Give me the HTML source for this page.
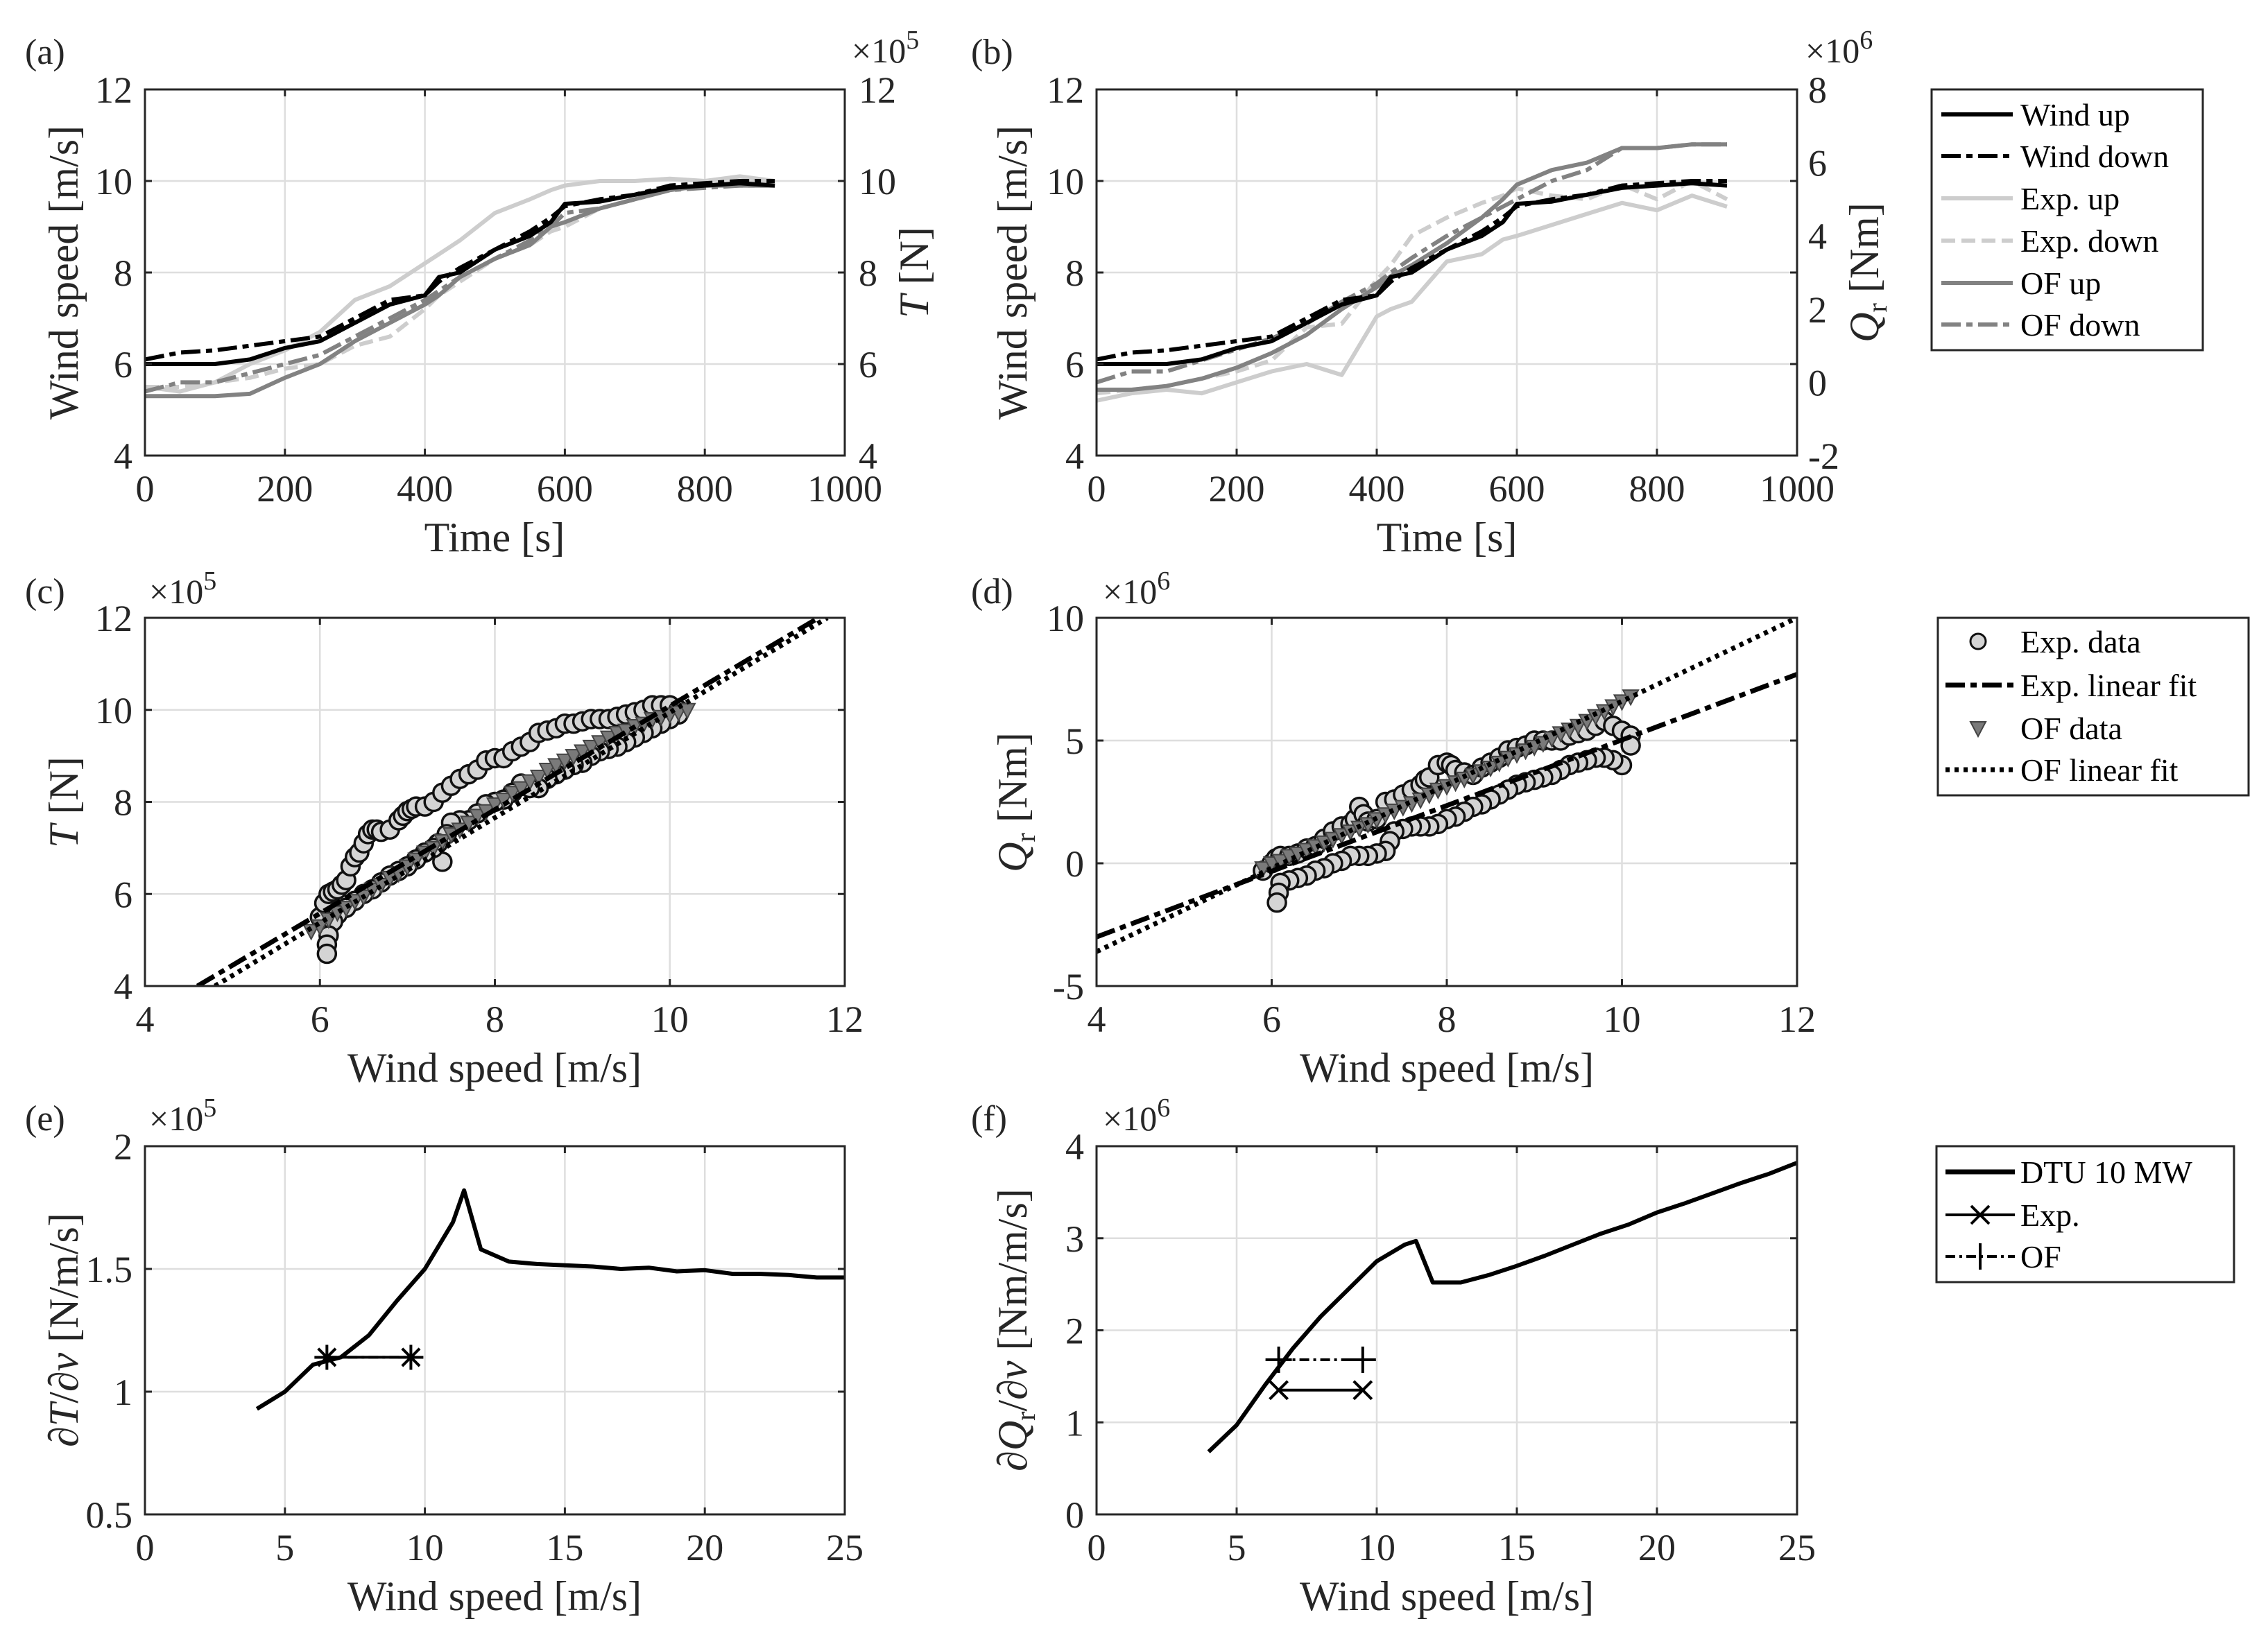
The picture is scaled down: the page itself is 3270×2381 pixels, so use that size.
<!DOCTYPE html>
<html><head><meta charset="utf-8">
<style>
html,body{margin:0;padding:0;background:#fff;}
svg{display:block;font-family:"Liberation Serif",serif;}
</style></head>
<body>
<svg id="fig" width="3270" height="2381" viewBox="0 0 3270 2381" xmlns="http://www.w3.org/2000/svg"></svg>
<script>
// ---------- Panel (a)/(b) time series data ----------
const timeA = [0,50,100,150,200,250,300,350,400,420,450,500,550,580,600,650,700,750,800,850,900];
const windUp = [6.0,6.0,6.0,6.1,6.35,6.5,6.9,7.3,7.5,7.9,8.0,8.5,8.8,9.1,9.5,9.55,9.7,9.85,9.9,9.95,9.9];
const windDown = [6.1,6.25,6.3,6.4,6.5,6.6,7.0,7.4,7.5,7.8,8.1,8.5,8.9,9.2,9.45,9.6,9.7,9.9,9.95,10.0,10.0];
const expUpT = [5.5,5.4,5.6,6.0,6.3,6.7,7.4,7.7,8.2,8.4,8.7,9.3,9.6,9.8,9.9,10.0,10.0,10.05,10.0,10.1,10.0];
const expDownT = [5.5,5.5,5.6,5.7,5.9,6.0,6.4,6.6,7.2,7.5,7.8,8.3,8.6,8.9,9.0,9.4,9.6,9.8,9.9,9.95,10.0];
const ofUpT = [5.3,5.3,5.3,5.35,5.7,6.0,6.5,6.9,7.3,7.5,7.9,8.3,8.6,9.0,9.1,9.4,9.6,9.8,9.9,9.9,9.9];
const ofDownT = [5.4,5.6,5.6,5.8,6.0,6.2,6.6,7.0,7.4,7.6,7.9,8.3,8.7,9.0,9.3,9.4,9.6,9.8,9.85,9.9,9.9];
const expUpQ = [-0.5,-0.3,-0.2,-0.3,0.0,0.3,0.5,0.2,1.8,2.0,2.2,3.3,3.5,3.9,4.0,4.3,4.6,4.9,4.7,5.1,4.8];
const expDownQ = [-0.3,-0.2,-0.1,0.1,0.3,0.6,1.5,1.6,2.8,3.2,4.0,4.5,4.9,5.1,5.3,5.1,5.0,5.4,5.0,5.5,5.0];
const ofUpQ = [-0.2,-0.2,-0.1,0.1,0.4,0.8,1.3,2.0,2.6,2.9,3.2,3.8,4.5,5.0,5.4,5.8,6.0,6.4,6.4,6.5,6.5];
const ofDownQ = [0.0,0.3,0.3,0.6,0.9,1.2,1.6,2.2,2.7,3.0,3.4,4.0,4.5,4.8,5.0,5.5,5.8,6.4,6.4,6.5,6.5];
const timeTicks = [0,200,400,600,800,1000];
const windTicks = [4,6,8,10,12];
const qTicks = [-2,0,2,4,6,8];

// ---------- Panel (c) ----------
const cExpX = [6.0,6.05,6.1,6.15,6.2,6.25,6.3,6.35,6.4,6.45,6.5,6.55,6.6,6.65,6.7,6.8,6.9,6.95,7.0,7.05,7.1,7.2,7.3,7.4,7.5,7.6,7.7,7.8,7.9,8.0,8.1,8.2,8.3,8.4,8.5,8.6,8.7,8.8,8.9,9.0,9.1,9.2,9.3,9.4,9.5,9.6,9.7,9.8,9.9,10.0,10.1,
  10.1,10.0,9.9,9.8,9.7,9.6,9.5,9.4,9.3,9.2,9.1,9.0,8.9,8.8,8.7,8.6,8.5,8.4,8.3,8.2,8.1,8.0,7.9,7.8,7.7,7.6,7.5,7.45,7.4,7.35,7.3,7.2,7.1,7.0,6.9,6.8,6.7,6.6,6.5,6.4,6.3,6.2,6.15,6.1,6.08,6.08];
const cExpY = [5.5,5.8,6.0,6.05,6.1,6.2,6.3,6.6,6.8,6.9,7.1,7.3,7.4,7.4,7.35,7.4,7.6,7.7,7.8,7.85,7.9,7.9,8.0,8.2,8.35,8.5,8.6,8.7,8.9,8.95,8.95,9.1,9.2,9.3,9.5,9.55,9.6,9.7,9.7,9.75,9.8,9.8,9.8,9.85,9.9,9.95,10.0,10.1,10.1,10.1,10.0,
  9.9,9.8,9.7,9.6,9.5,9.4,9.3,9.2,9.15,9.1,9.0,8.85,8.8,8.7,8.6,8.5,8.3,8.3,8.4,8.2,8.05,8.0,7.95,7.75,7.6,7.6,7.55,7.3,6.7,7.1,7.0,6.9,6.75,6.6,6.5,6.4,6.25,6.1,6.0,5.85,5.7,5.55,5.4,5.1,4.9,4.7];
const cOfX = [5.9,6.0,6.1,6.2,6.3,6.4,6.5,6.6,6.7,6.8,6.9,7.0,7.1,7.2,7.3,7.4,7.5,7.6,7.7,7.8,7.9,8.0,8.1,8.2,8.3,8.4,8.5,8.6,8.7,8.8,8.9,9.0,9.1,9.2,9.3,9.4,9.5,9.6,9.7,9.8,9.9,10.0,10.1,10.2];
const cOfY = [5.2,5.3,5.45,5.6,5.7,5.85,5.95,6.1,6.2,6.35,6.45,6.6,6.75,6.9,7.0,7.15,7.3,7.4,7.55,7.7,7.8,7.95,8.05,8.2,8.3,8.45,8.55,8.7,8.8,8.9,9.0,9.1,9.2,9.3,9.4,9.5,9.55,9.65,9.7,9.8,9.85,9.9,9.95,10.0];
const cFitExpX = [4.6,11.7]; const cFitExpY = [4,12];
const cFitOfX = [4.8,11.8]; const cFitOfY = [4,12];
const cXTicks = [4,6,8,10,12]; const cYTicks = [4,6,8,10,12];

// ---------- Panel (d) ----------
const dExpX = [5.9,6.0,6.05,6.1,6.2,6.3,6.4,6.5,6.6,6.7,6.8,6.9,6.95,7.0,7.05,7.1,7.2,7.3,7.4,7.5,7.6,7.7,7.75,7.8,7.9,8.0,8.05,8.1,8.2,8.3,8.4,8.5,8.6,8.7,8.8,8.9,9.0,9.1,9.2,9.3,9.4,9.5,9.6,9.7,9.8,9.9,10.0,10.1,
  10.1,10.0,9.9,9.8,9.7,9.6,9.5,9.4,9.3,9.2,9.1,9.0,8.9,8.8,8.7,8.6,8.5,8.4,8.3,8.2,8.1,8.0,7.9,7.8,7.7,7.6,7.5,7.4,7.35,7.3,7.2,7.1,7.0,6.9,6.8,6.7,6.6,6.5,6.4,6.3,6.2,6.1,6.08,6.06];
const dExpY = [-0.3,0.0,0.2,0.3,0.3,0.4,0.6,0.7,1.0,1.3,1.5,1.6,1.8,2.3,2.0,1.7,1.8,2.5,2.6,2.8,3.0,3.2,3.4,3.5,4.0,4.1,4.0,3.8,3.7,3.6,3.9,4.1,4.3,4.6,4.7,4.8,5.0,5.0,5.0,5.0,5.2,5.3,5.4,5.6,5.8,5.6,5.4,5.2,
  4.8,4.0,4.2,4.3,4.3,4.2,4.1,4.0,3.8,3.6,3.5,3.4,3.3,3.2,3.0,2.8,2.6,2.4,2.3,2.1,1.9,1.8,1.6,1.5,1.5,1.5,1.4,1.3,0.9,0.5,0.4,0.3,0.3,0.3,0.1,0.0,-0.2,-0.3,-0.5,-0.6,-0.7,-0.8,-1.2,-1.6];
const dOfX = [5.9,6.0,6.1,6.2,6.3,6.4,6.5,6.6,6.7,6.8,6.9,7.0,7.1,7.2,7.3,7.4,7.5,7.6,7.7,7.8,7.9,8.0,8.1,8.2,8.3,8.4,8.5,8.6,8.7,8.8,8.9,9.0,9.1,9.2,9.3,9.4,9.5,9.6,9.7,9.8,9.9,10.0,10.1];
const dOfY = [-0.2,0.0,0.1,0.3,0.4,0.55,0.7,0.85,1.0,1.15,1.3,1.45,1.6,1.8,2.0,2.15,2.3,2.45,2.6,2.8,3.0,3.15,3.3,3.45,3.6,3.75,3.9,4.1,4.3,4.45,4.6,4.75,4.9,5.1,5.3,5.45,5.6,5.8,6.0,6.2,6.4,6.6,6.8];
const dFitExpX = [4,12]; const dFitExpY = [-3.0,7.7];
const dFitOfX = [4,12]; const dFitOfY = [-3.6,10.0];
const dXTicks = [4,6,8,10,12]; const dYTicks = [-5,0,5,10];

// ---------- Panel (e)/(f) ----------
const dtuX = [4,5,6,7,8,9,10,11,11.4,12,13,14,15,16,17,18,19,20,21,22,23,24,25];
const dtuT = [0.93,1.0,1.11,1.14,1.23,1.37,1.50,1.69,1.82,1.58,1.53,1.52,1.515,1.51,1.50,1.505,1.49,1.495,1.48,1.48,1.475,1.465,1.465];
const dtuQ = [0.68,0.97,1.4,1.8,2.15,2.45,2.75,2.93,2.97,2.52,2.52,2.6,2.7,2.81,2.93,3.05,3.15,3.28,3.38,3.49,3.6,3.7,3.82];
const rangeX = [6.5,9.5];
const eExpY = [1.14,1.14]; const eOfY = [1.14,1.14];
const fExpY = [1.35,1.35]; const fOfY = [1.68,1.68];
const eXTicks = [0,5,10,15,20,25]; const eYTicks = [0.5,1,1.5,2]; const fYTicks = [0,1,2,3,4];

const NS = "http://www.w3.org/2000/svg";
const fig = document.getElementById('fig');
function el(tag, attrs, parent){ const e=document.createElementNS(NS,tag); for(const k in attrs) e.setAttribute(k,attrs[k]); (parent||fig).appendChild(e); return e; }
function txt(s, x, y, size, anchor, parent, extra){ const t=el('text',Object.assign({x:x,y:y,'font-size':size,'text-anchor':anchor||'middle',fill:'#262626'},extra||{}),parent); t.innerHTML=s; return t; }

const COL = {L:209, R:1218, L2:1581, R2:2591};
const ROW = [[129,657],[891,1422],[1653,2184]];
let clipN=0;
function makeAxes(name, x0,x1,y0,y1, xd, yd){
  const g = el('g',{});
  
  
  const sx = v => x0 + (v-xd[0])/(xd[1]-xd[0])*(x1-x0);
  const sy = v => y1 - (v-yd[0])/(yd[1]-yd[0])*(y1-y0);
  const id='clip'+(clipN++);
  const cp=el('clipPath',{id:id},g); el('rect',{x:x0,y:y0,width:x1-x0,height:y1-y0},cp);
  const data = el('g',{'clip-path':'url(#'+id+')'});
  return {g,sx,sy,x0,x1,y0,y1,data};
}
function grid(ax, xt, yt){
  const gg=el('g',{},ax.g);
  
  
  xt.forEach(v=>{const x=ax.sx(v); if(x>ax.x0+2&&x<ax.x1-2) el('line',{x1:x,x2:x,y1:ax.y0,y2:ax.y1,stroke:'#dedede','stroke-width':2.5},gg);});
  yt.forEach(v=>{const y=ax.sy(v); if(y>ax.y0+2&&y<ax.y1-2) el('line',{x1:ax.x0,x2:ax.x1,y1:y,y2:y,stroke:'#dedede','stroke-width':2.5},gg);});
}
function frame(ax, xt, yt){
  const gg=el('g',{});
  
  
  el('rect',{x:ax.x0,y:ax.y0,width:ax.x1-ax.x0,height:ax.y1-ax.y0,fill:'none',stroke:'#262626','stroke-width':3},gg);
  xt.forEach(v=>{const x=ax.sx(v); el('line',{x1:x,x2:x,y1:ax.y1,y2:ax.y1-10,stroke:'#262626','stroke-width':3},gg); el('line',{x1:x,x2:x,y1:ax.y0,y2:ax.y0+10,stroke:'#262626','stroke-width':3},gg);
    const t=txt(String(v),x,ax.y1+66,54,'middle',gg);
    
    });
  yt.forEach(v=>{const y=ax.sy(v); el('line',{x1:ax.x0,x2:ax.x0+10,y1:y,y2:y,stroke:'#262626','stroke-width':3},gg); el('line',{x1:ax.x1,x2:ax.x1-10,y1:y,y2:y,stroke:'#262626','stroke-width':3},gg);
    const t=txt(String(v),ax.x0-18,y+19,54,'end',gg);
    
    });
}
function line(ax, xs, ys, color, w, dash, name){
  const p = xs.map((x,i)=>(i?'L':'M')+ax.sx(x).toFixed(1)+','+ax.sy(ys[i]).toFixed(1)).join(' ');
  const e=el('path',{d:p,fill:'none',stroke:color,'stroke-width':w,'stroke-linejoin':'round','stroke-dasharray':dash||'none'},ax.data);
  
  
  return e;
}
function circles(ax, xs, ys, name){
  xs.forEach((x,i)=>{const c=el('circle',{cx:ax.sx(x),cy:ax.sy(ys[i]),r:13,fill:'#d4d4d4',stroke:'#111','stroke-width':3.5},ax.data);
    
    });
}
function tris(ax, xs, ys, name){
  xs.forEach((x,i)=>{const cx=ax.sx(x),cy=ax.sy(ys[i]);const t=el('path',{d:`M${cx-11},${cy-9} L${cx+11},${cy-9} L${cx},${cy+12} Z`,fill:'#7a7a7a',stroke:'#444','stroke-width':2},ax.data);
    
    });
}
function label(s,x,y,size,rot,name,anchor){
  const t=txt(s,x,y,size,anchor||'middle',fig,rot?{transform:`rotate(-90 ${x} ${y})`}:{});
  
  
  return t;
}
const DD='28,8,9,8', DS='20,9', DT='6,7';
const BLACK='#000', LIGHT='#cdcdcd', GRAY='#828282';

// Panel (a)
{
  const ax=makeAxes('panel-a',COL.L,COL.R,ROW[0][0],ROW[0][1],[0,1000],[4,12]);
  grid(ax,timeTicks,windTicks);
  fig.appendChild(ax.data);
  line(ax,timeA,expUpT,LIGHT,6,null,'exp-up-line');
  line(ax,timeA,expDownT,LIGHT,6,DS,'exp-down-line');
  line(ax,timeA,ofUpT,GRAY,6,null,'of-up-line');
  line(ax,timeA,ofDownT,GRAY,6,DD,'of-down-line');
  line(ax,timeA,windUp,BLACK,6,null,'wind-up-line');
  line(ax,timeA,windDown,BLACK,6,DD,'wind-down-line');
  frame(ax,timeTicks,windTicks);
  windTicks.forEach(v=>{const t=txt(String(v),ax.x1+20,ax.sy(v)+19,54,'start');
    
    });
  label('Wind speed [m/s]',112,393,60,true,'y-axis-title-left');
  label('<tspan font-style="italic">T</tspan> [N]',1338,393,60,true,'y-axis-title-right');
  label('×10<tspan dy="-20" font-size="38">5</tspan>',1228,90,50,false,'exponent-label','start');
  label('Time [s]',713,795,60,false,'x-axis-title');
  label('(a)',36,92,52,false,'panel-label','start');
}
// Panel (b)
{
  const ax=makeAxes('panel-b',COL.L2,COL.R2,ROW[0][0],ROW[0][1],[0,1000],[4,12]);
  const q2w = q => 4+(q+2)*0.8;
  grid(ax,timeTicks,windTicks);
  fig.appendChild(ax.data);
  line(ax,timeA,expUpQ.map(q2w),LIGHT,6,null,'exp-up-line');
  line(ax,timeA,expDownQ.map(q2w),LIGHT,6,DS,'exp-down-line');
  line(ax,timeA,ofUpQ.map(q2w),GRAY,6,null,'of-up-line');
  line(ax,timeA,ofDownQ.map(q2w),GRAY,6,DD,'of-down-line');
  line(ax,timeA,windUp,BLACK,6,null,'wind-up-line');
  line(ax,timeA,windDown,BLACK,6,DD,'wind-down-line');
  frame(ax,timeTicks,windTicks);
  qTicks.forEach(v=>{const t=txt(String(v),ax.x1+16,ax.sy(q2w(v))+19,54,'start');
    
    });
  label('Wind speed [m/s]',1480,393,60,true,'y-axis-title-left');
  label('<tspan font-style="italic">Q</tspan><tspan font-size="40" dy="12">r</tspan><tspan dy="-12"> [Nm]</tspan>',2708,393,60,true,'y-axis-title-right');
  label('×10<tspan dy="-20" font-size="38">6</tspan>',2603,90,50,false,'exponent-label','start');
  label('Time [s]',2086,795,60,false,'x-axis-title');
  label('(b)',1400,92,52,false,'panel-label','start');
}
// Panel (c)
{
  const ax=makeAxes('panel-c',COL.L,COL.R,ROW[1][0],ROW[1][1],[4,12],[4,12]);
  grid(ax,cXTicks,cYTicks);
  fig.appendChild(ax.data);
  circles(ax,cExpX,cExpY,'exp-data-point');
  tris(ax,cOfX,cOfY,'of-data-point');
  line(ax,cFitExpX,cFitExpY,BLACK,7,DD,'exp-linear-fit');
  line(ax,cFitOfX,cFitOfY,BLACK,7,DT,'of-linear-fit');
  frame(ax,cXTicks,cYTicks);
  label('<tspan font-style="italic">T</tspan> [N]',112,1157,60,true,'y-axis-title');
  label('×10<tspan dy="-20" font-size="38">5</tspan>',215,870,50,false,'exponent-label','start');
  label('Wind speed [m/s]',713,1560,60,false,'x-axis-title');
  label('(c)',36,870,52,false,'panel-label','start');
}
// Panel (d)
{
  const ax=makeAxes('panel-d',COL.L2,COL.R2,ROW[1][0],ROW[1][1],[4,12],[-5,10]);
  grid(ax,dXTicks,dYTicks);
  fig.appendChild(ax.data);
  circles(ax,dExpX,dExpY,'exp-data-point');
  tris(ax,dOfX,dOfY,'of-data-point');
  line(ax,dFitExpX,dFitExpY,BLACK,7,DD,'exp-linear-fit');
  line(ax,dFitOfX,dFitOfY,BLACK,7,DT,'of-linear-fit');
  frame(ax,dXTicks,dYTicks);
  label('<tspan font-style="italic">Q</tspan><tspan font-size="40" dy="12">r</tspan><tspan dy="-12"> [Nm]</tspan>',1480,1157,60,true,'y-axis-title');
  label('×10<tspan dy="-20" font-size="38">6</tspan>',1590,870,50,false,'exponent-label','start');
  label('Wind speed [m/s]',2086,1560,60,false,'x-axis-title');
  label('(d)',1400,870,52,false,'panel-label','start');
}
function star(ax,x,y,name){ const cx=ax.sx(x),cy=ax.sy(y),s=18; const g=el('g',{stroke:'#000','stroke-width':4},ax.data);
  
  
  el('line',{x1:cx-s,x2:cx+s,y1:cy,y2:cy},g); el('line',{x1:cx,x2:cx,y1:cy-s,y2:cy+s},g);
  el('line',{x1:cx-s*0.7,x2:cx+s*0.7,y1:cy-s*0.7,y2:cy+s*0.7},g); el('line',{x1:cx-s*0.7,x2:cx+s*0.7,y1:cy+s*0.7,y2:cy-s*0.7},g);}
function xmark(ax,x,y,name){ const cx=ax.sx(x),cy=ax.sy(y),s=13; const g=el('g',{stroke:'#000','stroke-width':4},ax.data);
  
  
  el('line',{x1:cx-s,x2:cx+s,y1:cy-s,y2:cy+s},g); el('line',{x1:cx-s,x2:cx+s,y1:cy+s,y2:cy-s},g);}
function plus(ax,x,y,name){ const cx=ax.sx(x),cy=ax.sy(y),s=19; const g=el('g',{stroke:'#000','stroke-width':4},ax.data);
  
  
  el('line',{x1:cx-s,x2:cx+s,y1:cy,y2:cy},g); el('line',{x1:cx,x2:cx,y1:cy-s,y2:cy+s},g);}
// Panel (e)
{
  const ax=makeAxes('panel-e',COL.L,COL.R,ROW[2][0],ROW[2][1],[0,25],[0.5,2]);
  grid(ax,eXTicks,eYTicks);
  fig.appendChild(ax.data);
  line(ax,dtuX,dtuT,BLACK,6,null,'dtu-10mw-line');
  line(ax,rangeX,eExpY,BLACK,4,null,'exp-range-line');
  line(ax,rangeX,eOfY,BLACK,4,'14,6,4,6','of-range-line');
  rangeX.forEach((x,i)=>{star(ax,x,eExpY[i],'exp-marker');});
  frame(ax,eXTicks,eYTicks);
  label('∂<tspan font-style="italic">T</tspan>/∂<tspan font-style="italic">v</tspan> [N/m/s]',112,1918,60,true,'y-axis-title');
  label('×10<tspan dy="-20" font-size="38">5</tspan>',215,1630,50,false,'exponent-label','start');
  label('Wind speed [m/s]',713,2322,60,false,'x-axis-title');
  label('(e)',36,1630,52,false,'panel-label','start');
}
// Panel (f)
{
  const ax=makeAxes('panel-f',COL.L2,COL.R2,ROW[2][0],ROW[2][1],[0,25],[0,4]);
  grid(ax,eXTicks,fYTicks);
  fig.appendChild(ax.data);
  line(ax,dtuX,dtuQ,BLACK,6,null,'dtu-10mw-line');
  line(ax,rangeX,fExpY,BLACK,4,null,'exp-range-line');
  line(ax,rangeX,fOfY,BLACK,4,'14,6,4,6','of-range-line');
  rangeX.forEach((x,i)=>{xmark(ax,x,fExpY[i],'exp-marker'); plus(ax,x,fOfY[i],'of-marker');});
  frame(ax,eXTicks,fYTicks);
  label('∂<tspan font-style="italic">Q</tspan><tspan font-size="40" dy="12">r</tspan><tspan dy="-12">/∂</tspan><tspan font-style="italic">v</tspan> [Nm/m/s]',1480,1918,60,true,'y-axis-title');
  label('×10<tspan dy="-20" font-size="38">6</tspan>',1590,1630,50,false,'exponent-label','start');
  label('Wind speed [m/s]',2086,2322,60,false,'x-axis-title');
  label('(f)',1400,1630,52,false,'panel-label','start');
}
// Legends
function legend(name,x0,y0,x1,y1){ const g=el('g',{});  
  el('rect',{x:x0,y:y0,width:x1-x0,height:y1-y0,fill:'#fff',stroke:'#262626','stroke-width':3},g); return g;}
function entry(g,y,text,draw){ const e=el('g',{},g);
  
  
  draw(e,y); txt(text,2913,y+16,46,'start',e,{fill:'#000'}); }
{
  const g=legend('legend-time-series',2785,129,3176,505);
  const items=[['Wind up',BLACK,null],['Wind down',BLACK,DD],['Exp. up',LIGHT,null],['Exp. down',LIGHT,DS],['OF up',GRAY,null],['OF down',GRAY,DD]];
  const ys=[165,225,286,347,408,468];
  items.forEach((it,i)=>entry(g,ys[i],it[0],(e,y)=>el('line',{x1:2799,x2:2902,y1:y,y2:y,stroke:it[1],'stroke-width':6,'stroke-dasharray':it[2]||'none'},e)));
}
{
  const g=legend('legend-scatter',2794,891,3242,1147);
  entry(g,925,'Exp. data',(e,y)=>el('circle',{cx:2852,cy:y,r:11,fill:'#d4d4d4',stroke:'#111','stroke-width':3},e));
  entry(g,988,'Exp. linear fit',(e,y)=>el('line',{x1:2805,x2:2905,y1:y,y2:y,stroke:'#000','stroke-width':7,'stroke-dasharray':DD},e));
  entry(g,1050,'OF data',(e,y)=>el('path',{d:`M2841,${y-9} L2863,${y-9} L2852,${y+12} Z`,fill:'#7a7a7a',stroke:'#444','stroke-width':2},e));
  entry(g,1110,'OF linear fit',(e,y)=>el('line',{x1:2805,x2:2905,y1:y,y2:y,stroke:'#000','stroke-width':7,'stroke-dasharray':DT},e));
}
{
  const g=legend('legend-derivative',2792,1653,3221,1849);
  entry(g,1690,'DTU 10 MW',(e,y)=>el('line',{x1:2805,x2:2905,y1:y,y2:y,stroke:'#000','stroke-width':7},e));
  entry(g,1752,'Exp.',(e,y)=>{el('line',{x1:2805,x2:2905,y1:y,y2:y,stroke:'#000','stroke-width':4},e);el('line',{x1:2842,x2:2868,y1:y-13,y2:y+13,stroke:'#000','stroke-width':4},e);el('line',{x1:2842,x2:2868,y1:y+13,y2:y-13,stroke:'#000','stroke-width':4},e);});
  entry(g,1812,'OF',(e,y)=>{el('line',{x1:2805,x2:2905,y1:y,y2:y,stroke:'#000','stroke-width':4,'stroke-dasharray':'14,6,4,6'},e);el('line',{x1:2855,x2:2855,y1:y-19,y2:y+19,stroke:'#000','stroke-width':4},e);});
}
</script>
</body></html>
